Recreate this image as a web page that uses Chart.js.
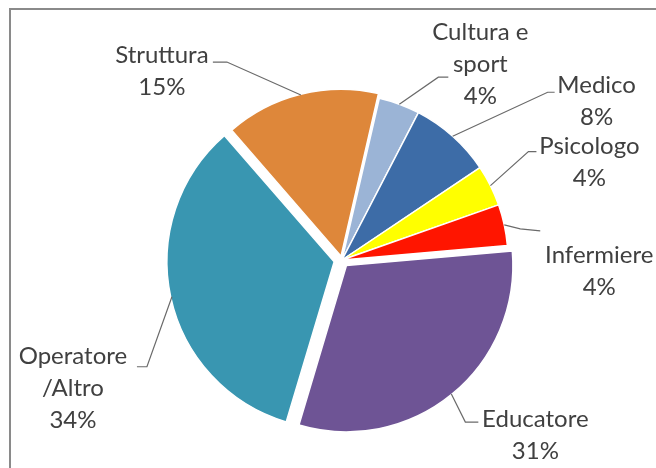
<!DOCTYPE html>
<html>
<head>
<meta charset="utf-8">
<script src="https://cdn.jsdelivr.net/npm/chart.js@4/dist/chart.umd.min.js"></script>
<style>
  html, body { margin: 0; padding: 0; background: #fff; }
  canvas { display: block; }
</style>
</head>
<body>
<canvas id="c" width="656" height="468"></canvas>
<script>
// Personale per ruolo (quote percentuali)
const categories = ['Cultura e sport', 'Medico', 'Psicologo', 'Infermiere', 'Educatore', 'Operatore /Altro', 'Struttura'];
const labelLines = [['Cultura e', 'sport'], ['Medico'], ['Psicologo'], ['Infermiere'], ['Educatore'], ['Operatore', '/Altro'], ['Struttura']];
const values = [4, 8, 4, 4, 31, 34, 15];
const colors = ['#9bb4d6', '#3d6ca7', '#ffff00', '#ff1500', '#6e5495', '#3996b1', '#de873a'];
// slices pulled out of the pie (Chart.js offset units)
const explode = [0, 0, 0, 0, 28, 32, 16];

// label layout, relative to the point on each slice's outer edge
const labelPos = [[81, -72], [144, -51], [99, -39], [95, 30], [84, 25], [-99, 59], [-139, -40]];
const leaderBend = [[39, -27], [95, -44], [38, -34], [16, 4], [14, 28], [-25, 70], [-74, -33]];
const leaderEnd = [[49, -27], [102, -44], [46, -34], [36, 6], [27, 28], [-35, 70], [-88, -33]];

const frame = {
  id: 'frame',
  beforeDraw(chart) {
    const ctx = chart.ctx;
    ctx.save();
    ctx.fillStyle = '#fff';
    ctx.fillRect(0, 0, chart.width, chart.height);
    ctx.strokeStyle = '#8a8a8a';
    ctx.lineWidth = 2;
    ctx.beginPath();
    ctx.moveTo(10, chart.height);
    ctx.lineTo(10, 9);
    ctx.lineTo(chart.width, 9);
    ctx.stroke();
    ctx.restore();
  }
};

const sliceLabels = {
  id: 'sliceLabels',
  afterDatasetsDraw(chart) {
    const ctx = chart.ctx;
    const meta = chart.getDatasetMeta(0);
    const total = values.reduce((a, b) => a + b, 0);
    ctx.save();
    meta.data.forEach((arc, i) => {
      const p = arc.getProps(['x', 'y', 'startAngle', 'endAngle', 'outerRadius'], true);
      const mid = (p.startAngle + p.endAngle) / 2;
      const shift = (explode[i] || 0) / 4;
      const r = p.outerRadius + shift;
      const ax = p.x + Math.cos(mid) * r;
      const ay = p.y + Math.sin(mid) * r;
      // leader line
      ctx.strokeStyle = '#6a6a6a';
      ctx.lineWidth = 1.2;
      ctx.beginPath();
      ctx.moveTo(ax, ay);
      ctx.lineTo(ax + leaderBend[i][0], ay + leaderBend[i][1]);
      ctx.lineTo(ax + leaderEnd[i][0], ay + leaderEnd[i][1]);
      ctx.stroke();
      // text
      const lines = labelLines[i].concat([Math.round(values[i] / total * 100) + '%']);
      ctx.fillStyle = '#404040';
      ctx.font = '24px Lato';
      ctx.textAlign = 'center';
      ctx.textBaseline = 'middle';
      const tx = ax + labelPos[i][0];
      const ty = ay + labelPos[i][1];
      lines.forEach((ln, k) => ctx.fillText(ln, tx, ty + k * 32));
    });
    ctx.restore();
  }
};

new Chart(document.getElementById('c'), {
  type: 'pie',
  data: {
    labels: categories,
    datasets: [{
      data: values,
      backgroundColor: colors,
      borderColor: '#ffffff',
      borderWidth: 1.5,
      offset: explode
    }]
  },
  options: {
    responsive: false,
    animation: false,
    devicePixelRatio: 1,
    rotation: 13,
    radius: 166,
    layout: { padding: { left: 28, top: 52, right: 0, bottom: 0 } },
    plugins: { legend: { display: false }, tooltip: { enabled: false } }
  },
  plugins: [frame, sliceLabels]
});
</script>
</body>
</html>
